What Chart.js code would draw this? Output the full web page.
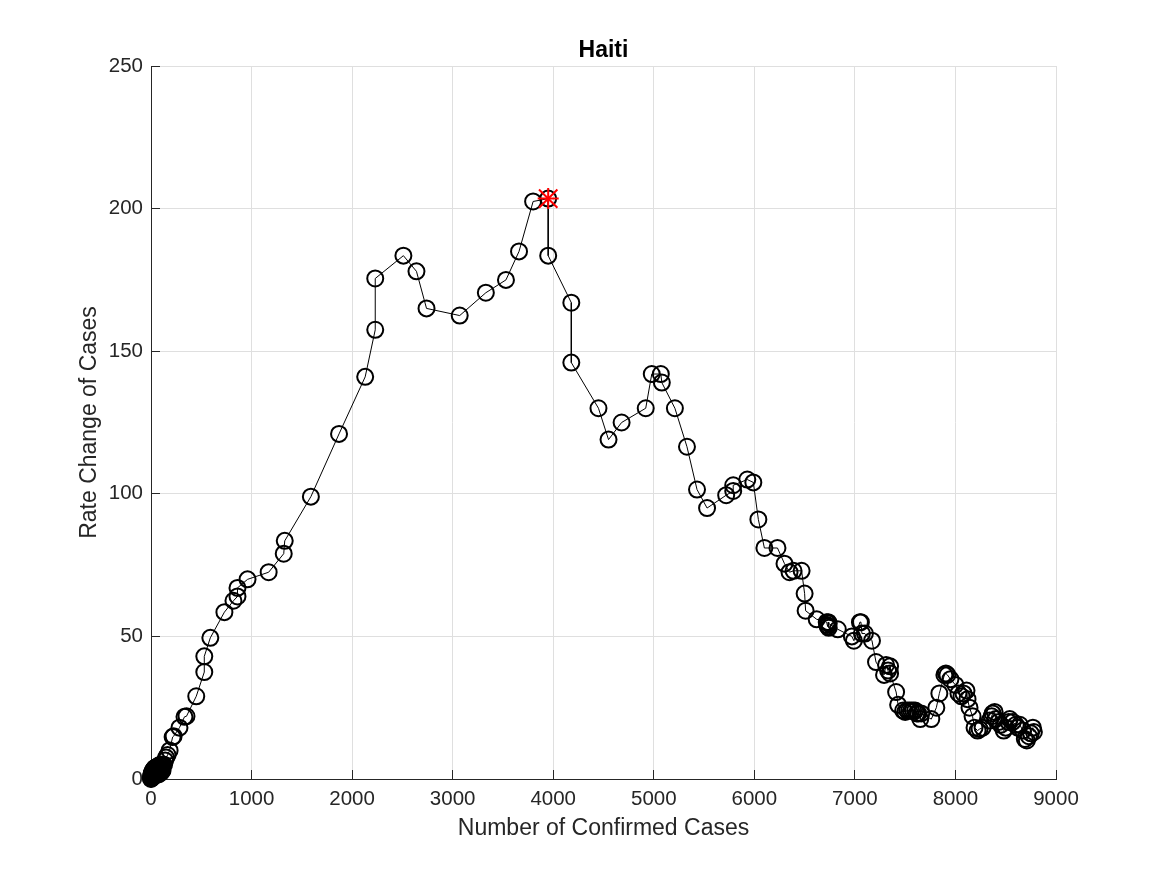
<!DOCTYPE html>
<html><head><meta charset="utf-8">
<style>html,body{margin:0;padding:0;background:#fff;overflow:hidden}canvas{display:block}</style>
<script src="https://cdn.jsdelivr.net/npm/chart.js@4"></script></head>
<body><canvas id="c" width="1167" height="875"></canvas>
<script>
const titleText = "Haiti";
const xLabel = "Number of Confirmed Cases";
const yLabel = "Rate Change of Cases";
const confirmedCases = [0,1,2,3,4,5,6,8,10,12,14,16,18,20,22,25,28,30,33,36,40,44,48,50,55,60,65,70,75,80,85,90,95,100,105,110,115,120,130,140,150,165,185,215,225,283,333,353,450,530,530,590,730,820,860,860,960,1170,1320,1330,1590,1870,2130,2230,2230,2510,2640,2740,3070,3330,3530,3660,3800,3950,3950,4180,4180,4450,4550,4680,4920,4980,5070,5080,5210,5330,5430,5530,5720,5790,5790,5930,5990,6040,6100,6230,6300,6350,6390,6470,6500,6510,6620,6720,6725,6730,6735,6740,6740,6830,6970,6990,7050,7060,7070,7100,7170,7210,7290,7310,7330,7350,7350,7410,7430,7480,7500,7520,7540,7560,7580,7600,7615,7630,7650,7660,7760,7810,7840,7890,7905,7920,7950,8000,8030,8060,8080,8110,8120,8140,8170,8190,8220,8240,8270,8340,8360,8370,8390,8400,8430,8450,8480,8500,8530,8540,8570,8600,8620,8640,8670,8690,8710,8730,8750,8770,8780];
const rateChange = [0,0.8,0.2,1.2,0.3,1.6,0.5,2,1,2.3,0.5,2.6,1.2,3,0.8,3.2,1.5,3.5,1.2,3.8,2,4,1.5,4,1.5,4.2,2,4.5,1.6,4.8,2,4.8,2.2,5,2.5,5,3,5,5,6.5,7.5,8.4,10,14.7,15,18,21.8,22,29,37.5,43,49.5,58.5,62.5,64,67,70,72.5,79,83.5,99,121,141,157.5,175.5,183.5,178,165,162.5,170.5,175,185,202.5,203.5,183.5,167,146,130,119,125,130,142,142,139,130,116.5,101.5,95,99.5,101,103,105,104,91,81,81,75.5,72.5,73,73,65,59,56,55,54,53.5,55,53,54.5,52.5,50,48.5,55,55,51,51,48.5,41,36.5,40,38,39.5,37,30.5,26,24,23.5,24,24,24,24,24,23,23,21,23,21,25,30,36.5,37,36.5,35,33,30,29,30,31,28,25,22,18,17,17.5,18,20.5,22,23,23.5,21,20,19,17,18,20,21,20,19,18,19,17,14,13.5,15,16,18,16.5];
const peakCases = [3950];
const peakRate = [203.5];
const xTicks = [0,1000,2000,3000,4000,5000,6000,7000,8000,9000];
const yTicks = [0,50,100,150,200,250];

const toPoints = (xs, ys) => xs.map((x, i) => ({x, y: ys[i]}));
const textColor = "#262626", axisColor = "#262626", gridColor = "#dfdfdf";
const family = "'Liberation Sans', Arial, sans-serif";

const whiteBg = {id:"whiteBg", beforeDraw(ch){const g=ch.ctx;g.save();g.fillStyle="#fff";g.fillRect(0,0,ch.width,ch.height);g.restore();}};

new Chart(document.getElementById("c"), {
  type: "scatter",
  plugins: [whiteBg],
  data: { datasets: [
    { data: toPoints(peakCases, peakRate), pointStyle:"cross", pointRadius:10.5, pointBorderColor:"#ff0000", pointBorderWidth:2, showLine:false, order:0, clip:false },
    { data: toPoints(peakCases, peakRate), pointStyle:"crossRot", pointRadius:13, pointBorderColor:"#ff0000", pointBorderWidth:2, showLine:false, order:0, clip:false },
    { data: toPoints(confirmedCases, rateChange), showLine:true, borderColor:"#000", borderWidth:1, tension:0, clip:false,
      pointStyle:"circle", pointRadius:8, pointBorderColor:"#000", pointBorderWidth:2, pointBackgroundColor:"transparent", order:1 }
  ]},
  options: {
    responsive:false, animation:false, devicePixelRatio:1,
    layout:{padding:{left:76,right:111,top:0,bottom:33}},
    plugins:{
      legend:{display:false}, tooltip:{enabled:false},
      title:{display:true, text:titleText, color:"#000", fullSize:false, font:{family,size:23,weight:"bold",lineHeight:1.2}, padding:{top:37,bottom:1.4}}
    },
    scales:{
      x:{type:"linear", min:0, max:9000,
        afterBuildTicks(a){a.ticks=xTicks.map(v=>({value:v}));},
        afterFit(a){a.height=63;},
        grid:{color:gridColor, lineWidth:1, tickColor:axisColor, tickLength:-9, drawTicks:true},
        border:{color:axisColor, width:1},
        ticks:{color:textColor, font:{family,size:20.5}, padding:17, maxRotation:0, autoSkip:false, callback:v=>String(v)},
        title:{display:true, text:xLabel, color:textColor, font:{family,size:23}, padding:{top:0,bottom:0}}
      },
      y:{type:"linear", min:0, max:250,
        afterBuildTicks(a){a.ticks=yTicks.map(v=>({value:v}));},
        afterFit(a){a.width=75;},
        grid:{color:gridColor, lineWidth:1, tickColor:axisColor, tickLength:-9, drawTicks:true},
        border:{color:axisColor, width:1},
        ticks:{color:textColor, font:{family,size:20.5}, padding:17, autoSkip:false, callback:v=>String(v)},
        title:{display:true, text:yLabel, color:textColor, font:{family,size:23}, padding:{top:0,bottom:0}}
      }
    }
  }
});
</script></body></html>
